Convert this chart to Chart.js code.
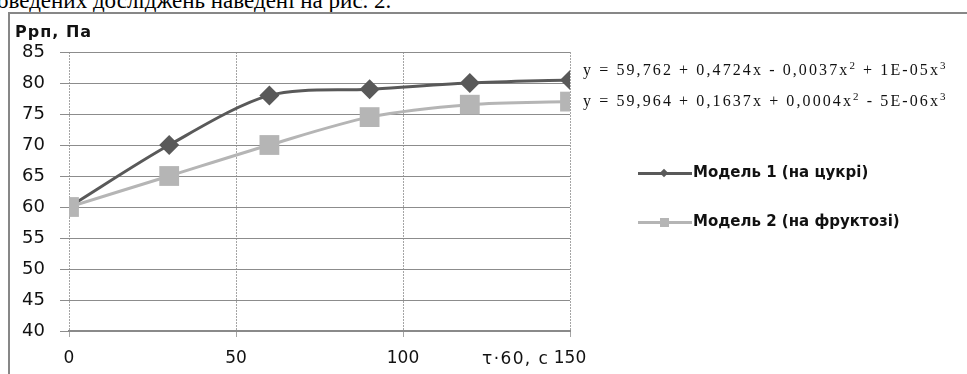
<!DOCTYPE html>
<html>
<head>
<meta charset="utf-8">
<script src="https://cdn.jsdelivr.net/npm/chart.js@4.4.0/dist/chart.umd.min.js"></script>
<style>
  body { margin: 0; background: #fff; }
  #wrap { position: relative; width: 967px; height: 374px; overflow: hidden; }
  #topText { position: absolute; left: -3px; top: -11px; font: 23px 'Liberation Serif', serif; line-height: 23px; color: #000; white-space: nowrap; }
  #frame { position: absolute; left: 8px; top: 12px; width: 1000px; height: 400px; border-left: 2px solid #878787; border-top: 2px solid #878787; }
  #chart { position: absolute; left: 0; top: 0; }
  #yTitle { position: absolute; left: 15px; top: 22px; font: bold 16px 'DejaVu Sans', sans-serif; letter-spacing: 1px; color: #111; white-space: nowrap; }
  #xTitle { position: absolute; left: 482px; top: 348px; font: 17px 'DejaVu Sans', sans-serif; letter-spacing: 1.4px; color: #111; white-space: nowrap; }
  .leg { position: absolute; left: 638px; height: 20px; white-space: nowrap; }
  .leg .ln { position: absolute; left: 0; top: 9px; width: 54px; height: 3px; }
  .leg .mk { position: absolute; }
  .leg .tx { position: absolute; left: 55px; top: 0px; font: bold 15px 'DejaVu Sans', sans-serif; color: #111; }
  .eq { position: absolute; left: 583px; font: 16px 'Liberation Serif', serif; letter-spacing: 2.1px; color: #111; white-space: nowrap; }
  .eq sup { font-size: 11px; line-height: 0; }
</style>
</head>
<body>
<div id="wrap">
  <div id="topText">оведених досліджень наведені на рис. 2.</div>
  <div id="frame"></div>
  <canvas id="chart" width="967" height="374"></canvas>
  <div id="yTitle">Ррп, Па</div>
  <div id="xTitle">τ·60, с</div>
  <div id="legend"></div>
</div>
<script>
// --------------------
// Data
// --------------------
const timeValues = [0, 30, 60, 90, 120, 150];
const model1Values = [60, 70, 78, 79, 80, 80.5];
const model2Values = [60, 65, 70, 74.5, 76.5, 77];
const seriesNames = ['Модель 1 (на цукрі)', 'Модель 2 (на фруктозі)'];
const seriesColors = ['#595959', '#b5b5b5'];
const equations = [
  'y = 59,762 + 0,4724x - 0,0037x<sup>2</sup> + 1E-05x<sup>3</sup>',
  'y = 59,964 + 0,1637x + 0,0004x<sup>2</sup> - 5E-06x<sup>3</sup>'
];
const yMin = 40, yMax = 85, yStep = 5;
const xMin = 0, xMax = 150, xStep = 50;

const toPoints = vals => vals.map((v, i) => ({ x: timeValues[i], y: v }));

// --------------------
// Chart
// --------------------
const ctx = document.getElementById('chart').getContext('2d');
new Chart(ctx, {
  type: 'line',
  data: {
    datasets: [
      {
        label: seriesNames[0], data: toPoints(model1Values), order: 1,
        borderColor: seriesColors[0], backgroundColor: seriesColors[0], borderWidth: 3,
        pointStyle: 'rectRot', pointRadius: 10, pointBorderWidth: 0, tension: 0.3
      },
      {
        label: seriesNames[1], data: toPoints(model2Values), order: 0,
        borderColor: seriesColors[1], backgroundColor: seriesColors[1], borderWidth: 3,
        pointStyle: 'rect', pointRadius: 14, pointBorderWidth: 0, tension: 0.3
      }
    ]
  },
  options: {
    responsive: false,
    animation: false,
    layout: { padding: { left: 15, top: 52, right: 397, bottom: 0 } },
    plugins: { legend: { display: false }, tooltip: { enabled: false } },
    scales: {
      x: {
        type: 'linear', min: xMin, max: xMax,
        afterFit: s => { s.height = 43; },
        ticks: { stepSize: xStep, padding: 11, color: '#111', font: { family: 'DejaVu Sans', size: 17 } },
        grid: { color: '#a5a5a5', tickLength: 6, tickColor: '#a5a5a5' },
        border: { display: true, color: '#8a8a8a', width: 2, dash: [2, 1] }
      },
      y: {
        min: yMin, max: yMax,
        afterFit: s => { s.width = 54; },
        ticks: { stepSize: yStep, padding: 15, color: '#111', font: { family: 'DejaVu Sans', size: 18 } },
        grid: { color: '#8c8c8c', tickLength: 9, tickColor: '#8c8c8c' },
        border: { display: false }
      }
    }
  }
});

// --------------------
// Legend and trend equations
// --------------------
const legend = document.getElementById('legend');
const legendTops = [163, 212];
seriesNames.forEach((name, i) => {
  const item = document.createElement('div');
  item.className = 'leg';
  item.style.top = legendTops[i] + 'px';
  const mk = i === 0
    ? `<div class="mk" style="left:23px;top:7px;width:6px;height:6px;background:${seriesColors[i]};transform:rotate(45deg)"></div>`
    : `<div class="mk" style="left:22px;top:6px;width:9px;height:9px;background:${seriesColors[i]}"></div>`;
  item.innerHTML = `<div class="ln" style="background:${seriesColors[i]}"></div>${mk}<div class="tx">${name}</div>`;
  legend.appendChild(item);
});

const eqTops = [61, 92];
equations.forEach((eq, i) => {
  const d = document.createElement('div');
  d.className = 'eq';
  d.style.top = eqTops[i] + 'px';
  d.innerHTML = eq;
  document.getElementById('wrap').appendChild(d);
});
</script>
</body>
</html>
